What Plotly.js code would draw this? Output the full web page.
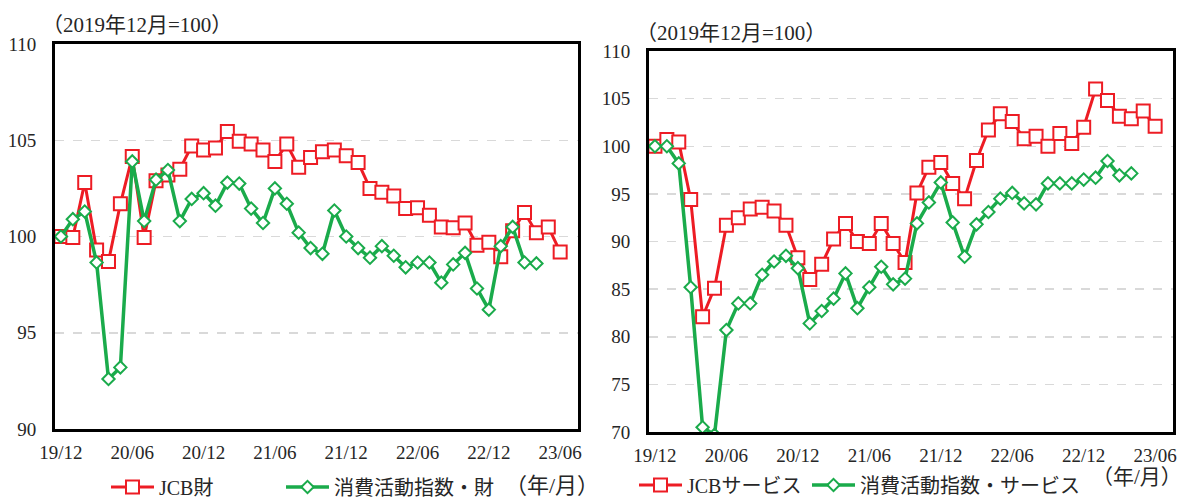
<!DOCTYPE html>
<html>
<head>
<meta charset="utf-8">
<script src="https://cdn.plot.ly/plotly-3.0.1.min.js"></script>
<style>
html,body{margin:0;padding:0;background:#fff;}
#chart{width:1184px;height:500px;}
</style>
</head>
<body>
<div id="chart"></div>
<script>
// Months 2019/12 .. 2023/07
const months = ["19/12","20/01","20/02","20/03","20/04","20/05","20/06","20/07","20/08","20/09","20/10","20/11",
  "20/12","21/01","21/02","21/03","21/04","21/05","21/06","21/07","21/08","21/09","21/10","21/11",
  "21/12","22/01","22/02","22/03","22/04","22/05","22/06","22/07","22/08","22/09","22/10","22/11",
  "22/12","23/01","23/02","23/03","23/04","23/05","23/06","23/07"];
const tickLabels = ["19/12","20/06","20/12","21/06","21/12","22/06","22/12","23/06"];

// Left: goods
const jcbGoods = [100.0,99.95,102.8,99.3,98.7,101.7,104.15,99.95,102.9,103.2,103.5,104.7,
  104.5,104.6,105.45,104.95,104.8,104.5,103.9,104.8,103.6,104.1,104.4,104.5,
  104.2,103.85,102.5,102.3,102.1,101.45,101.5,101.1,100.5,100.45,100.7,99.55,
  99.7,98.95,100.3,101.25,100.2,100.5,99.2];
const caiGoods = [100.0,100.9,101.3,98.65,92.6,93.2,103.9,100.8,102.95,103.45,100.8,101.95,
  102.25,101.6,102.8,102.75,101.45,100.7,102.5,101.7,100.2,99.4,99.1,101.35,
  100.0,99.4,98.9,99.5,99.0,98.4,98.65,98.65,97.6,98.55,99.15,97.3,
  96.2,99.5,100.5,98.65,98.6];

// Right: services
const jcbServices = [100.0,100.7,100.45,94.4,82.1,85.1,91.7,92.5,93.4,93.6,93.2,91.7,
  88.3,86.0,87.6,90.25,91.9,90.0,89.8,91.9,89.8,87.8,95.1,97.8,
  98.3,96.1,94.5,98.5,101.7,103.4,102.6,100.8,101.05,100.0,101.35,100.3,
  102.0,106.0,104.8,103.15,102.9,103.7,102.1];
const caiServices = [100.0,100.0,98.2,85.2,70.5,69.7,80.7,83.5,83.5,86.5,87.9,88.5,
  87.2,81.4,82.7,84.0,86.65,83.0,85.2,87.35,85.5,86.1,91.9,94.1,
  96.2,92.0,88.4,91.8,93.1,94.5,95.1,94.0,93.9,96.1,96.1,96.1,
  96.5,96.7,98.45,96.95,97.15];

const seriesNames = ["JCB財","消費活動指数・財","JCBサービス","消費活動指数・サービス"];
const baseNote = "（2019年12月=100）";
const unitNote = "（年/月）";

const RED = "#ED1C24", GREEN = "#1AAB4B";
const FONT = "Liberation Serif, Noto Sans CJK JP, serif";
const TXT = "#262626";

function redTrace(y, name, xa, ya, lg){
  return {x: months.slice(0, y.length), y: y, name: name, type: "scatter", mode: "lines+markers",
    xaxis: xa, yaxis: ya, legend: lg, cliponaxis: true,
    line: {color: RED, width: 3},
    marker: {symbol: "square", size: 13, color: "#fff", line: {color: RED, width: 2}}};
}
function greenTrace(y, name, xa, ya, lg){
  return {x: months.slice(0, y.length), y: y, name: name, type: "scatter", mode: "lines+markers",
    xaxis: xa, yaxis: ya, legend: lg, cliponaxis: true,
    line: {color: GREEN, width: 3.5},
    marker: {symbol: "diamond", size: 9.5, color: "#fff", line: {color: GREEN, width: 2}}};
}

const data = [
  redTrace(jcbGoods, seriesNames[0], "x", "y", "legend"),
  greenTrace(caiGoods, seriesNames[1], "x", "y", "legend2"),
  redTrace(jcbServices, seriesNames[2], "x2", "y2", "legend3"),
  greenTrace(caiServices, seriesNames[3], "x2", "y2", "legend4")
];

function xAxis(domain, anchor){
  return {domain: domain, anchor: anchor, type: "category", categoryorder: "array", categoryarray: months,
    range: [-0.5, months.length - 0.5], tickmode: "array", tickvals: tickLabels, ticktext: tickLabels,
    showgrid: false, zeroline: false, showline: true, linecolor: "#000", linewidth: 3, mirror: true,
    ticks: "outside", ticklen: 4, tickcolor: "rgba(0,0,0,0)",
    tickfont: {family: FONT, size: 19, color: TXT}, fixedrange: true, automargin: false};
}
function yAxis(domain, anchor, range, dtick){
  return {domain: domain, anchor: anchor, range: range, dtick: dtick, tick0: range[0],
    showgrid: true, gridcolor: "#D9D9D9", gridwidth: 1.5, griddash: "dash",
    zeroline: false, showline: true, linecolor: "#000", linewidth: 3, mirror: true,
    ticks: "outside", ticklen: 12, tickcolor: "rgba(0,0,0,0)",
    tickfont: {family: FONT, size: 19, color: TXT}, fixedrange: true, automargin: false};
}
function legendAt(xpx, ypx){
  return {orientation: "h", x: xpx/1184, y: 1 - ypx/500, xanchor: "left", yanchor: "middle",
    itemwidth: 43, font: {family: FONT, size: 20, color: TXT}, bgcolor: "rgba(0,0,0,0)", borderwidth: 0};
}

const layout = {
  width: 1184, height: 500, margin: {l: 0, r: 0, t: 0, b: 0, pad: 0, autoexpand: false},
  paper_bgcolor: "#fff", plot_bgcolor: "#fff",
  font: {family: FONT, size: 18, color: TXT},
  showlegend: true,
  xaxis: xAxis([55/1184, 578/1184], "y"),
  yaxis: yAxis([1 - 429/500, 1 - 44/500], "x", [90, 110], 5),
  xaxis2: xAxis([649/1184, 1173/1184], "y2"),
  yaxis2: yAxis([1 - 432/500, 1 - 51/500], "x2", [70, 110], 5),
  legend: legendAt(106, 487),
  legend2: legendAt(281, 487),
  legend3: legendAt(634, 485),
  legend4: legendAt(807, 485),
  annotations: [
    {text: baseNote, xref: "paper", yref: "paper", x: 40/1184, y: 1 - 25/500, xanchor: "left", yanchor: "middle",
      showarrow: false, font: {family: FONT, size: 21, color: TXT}},
    {text: baseNote, xref: "paper", yref: "paper", x: 634/1184, y: 1 - 33/500, xanchor: "left", yanchor: "middle",
      showarrow: false, font: {family: FONT, size: 21, color: TXT}},
    {text: unitNote, xref: "paper", yref: "paper", x: 601/1184, y: 1 - 485/500, xanchor: "right", yanchor: "middle",
      showarrow: false, font: {family: FONT, size: 22, color: TXT}},
    {text: unitNote, xref: "paper", yref: "paper", x: 1, y: 1 - 477/500, xanchor: "right", yanchor: "middle",
      showarrow: false, font: {family: FONT, size: 21, color: TXT}}
  ]
};

Plotly.newPlot("chart", data, layout, {displayModeBar: false, staticPlot: true});
</script>
</body>
</html>
